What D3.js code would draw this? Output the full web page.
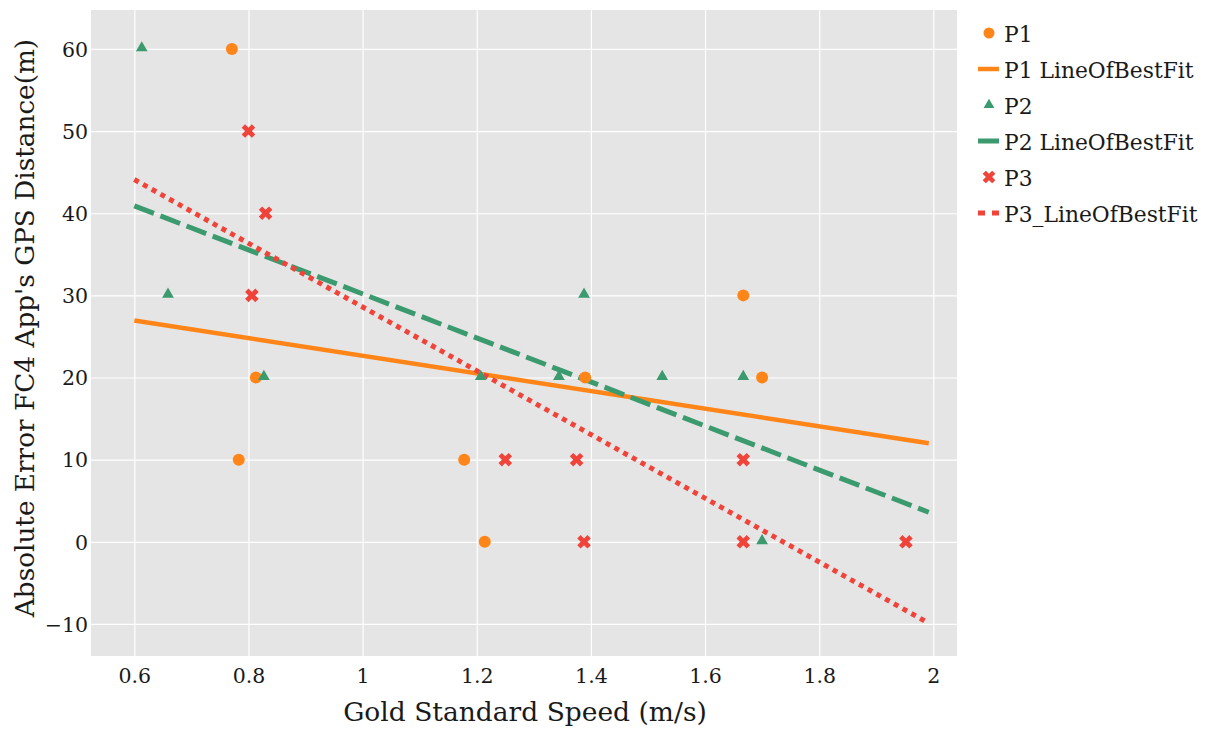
<!DOCTYPE html>
<html><head><meta charset="utf-8">
<script src="https://cdn.jsdelivr.net/npm/d3@7"></script>
<style>body{margin:0;background:#fff}svg{display:block}text{font-family:"DejaVu Serif",serif;fill:#1a1a1a}</style>
</head><body><svg id="c" width="1208" height="733"></svg>
<script>
const xTicks = [0.6, 0.8, 1, 1.2, 1.4, 1.6, 1.8, 2];
const yTicks = [-10, 0, 10, 20, 30, 40, 50, 60];
const p1X = [0.771, 0.813, 0.783, 1.178, 1.214, 1.39, 1.667, 1.70];
const p1Y = [60, 20, 10, 10, 0, 20, 30, 20];
const p2X = [0.613, 0.659, 0.827, 1.207, 1.344, 1.388, 1.525, 1.667, 1.70];
const p2Y = [60, 30, 20, 20, 20, 30, 20, 20, 0];
const p3X = [0.80, 0.806, 0.83, 1.25, 1.375, 1.388, 1.667, 1.667, 1.952];
const p3Y = [50, 30, 40, 10, 10, 0, 10, 0, 0];
const fitX = [0.6, 1.992];
const p1Fit = [26.95, 12.0];
const p2Fit = [40.9, 3.6];
const p3Fit = [44.1, -9.9];
const legendLabels = ["P1", "P1 LineOfBestFit", "P2", "P2 LineOfBestFit", "P3", "P3_LineOfBestFit"];

const C1 = "#ff8519", C2 = "#3b9a6e", C3 = "#f0433a";
const svg = d3.select("#c");
const L = 91, R = 957, T = 10, B = 656;
const x = d3.scaleLinear().domain([0.5241, 2.0415]).range([L, R]);
const y = d3.scaleLinear().domain([-13.9, 64.74]).range([B, T]);

svg.append("rect").attr("x", L).attr("y", T).attr("width", R - L).attr("height", B - T).attr("fill", "#e5e5e5");
const gx = svg.append("g").attr("transform", `translate(0,${B})`)
  .call(d3.axisBottom(x).tickValues(xTicks).tickFormat(d3.format("~g")).tickSize(-(B - T)).tickPadding(12));
gx.select(".domain").remove();
gx.selectAll("line").attr("stroke", "#fff").attr("stroke-width", 1.2);
gx.selectAll("text").style("font-size", "20.5px").attr("fill", "#1a1a1a");
const gy = svg.append("g").attr("transform", `translate(${L},0)`)
  .call(d3.axisLeft(y).tickValues(yTicks).tickFormat(d3.format("~g")).tickSize(-(R - L)).tickPadding(3));
gy.select(".domain").remove();
gy.selectAll("line").attr("stroke", "#fff").attr("stroke-width", 1.2);
gy.selectAll("text").style("font-size", "20.5px").attr("fill", "#1a1a1a").attr("dy", "0.35em");

svg.append("text").attr("x", (L + R) / 2 + 1).attr("y", 721).attr("text-anchor", "middle")
  .style("font-size", "26.5px").text("Gold Standard Speed (m/s)");
svg.append("text").attr("transform", `translate(34,${(T + B) / 2 - 5}) rotate(-90)`).attr("text-anchor", "middle")
  .style("font-size", "26.3px").text("Absolute Error FC4 App's GPS Distance(m)");

const plot = svg.append("g");
const line = d3.line().x(d => x(d[0])).y(d => y(d[1]));
plot.append("path").datum(d3.zip(fitX, p1Fit)).attr("d", line).attr("fill", "none")
  .attr("stroke", C1).attr("stroke-width", 4.5);
plot.append("path").datum(d3.zip(fitX, p2Fit)).attr("d", line).attr("fill", "none")
  .attr("stroke", C2).attr("stroke-width", 5).attr("stroke-dasharray", "21,7");
plot.append("path").datum(d3.zip(fitX, p3Fit)).attr("d", line).attr("fill", "none")
  .attr("stroke", C3).attr("stroke-width", 5).attr("stroke-dasharray", "5,5");

const tri = d3.symbol().type(d3.symbolTriangle).size(60);
const crs = d3.symbol().type(d3.symbolCross).size(115);
plot.selectAll(".p1").data(d3.zip(p1X, p1Y)).join("circle")
  .attr("cx", d => x(d[0])).attr("cy", d => y(d[1])).attr("r", 6).attr("fill", C1);
plot.selectAll(".p2").data(d3.zip(p2X, p2Y)).join("path").attr("d", tri)
  .attr("transform", d => `translate(${x(d[0])},${y(d[1]) - 1})`).attr("fill", C2);
plot.selectAll(".p3").data(d3.zip(p3X, p3Y)).join("path").attr("d", crs)
  .attr("transform", d => `translate(${x(d[0])},${y(d[1])}) rotate(45)`).attr("fill", C3);

// legend
const lg = svg.append("g");
const base0 = 42, step = 36, tx = 1004;
legendLabels.forEach((lab, i) => {
  const by = base0 + i * step, cy = by - 9;
  lg.append("text").attr("x", tx).attr("y", by).style("font-size", "21.8px").text(lab);
  if (i === 0) lg.append("circle").attr("cx", 989).attr("cy", cy).attr("r", 5.5).attr("fill", C1);
  if (i === 2) lg.append("path").attr("d", d3.symbol().type(d3.symbolTriangle).size(50)).attr("transform", `translate(989,${cy})`).attr("fill", C2);
  if (i === 4) lg.append("path").attr("d", d3.symbol().type(d3.symbolCross).size(100)).attr("transform", `translate(989,${cy}) rotate(45)`).attr("fill", C3);
  if (i === 1) lg.append("line").attr("x1", 978).attr("x2", 999).attr("y1", cy).attr("y2", cy).attr("stroke", C1).attr("stroke-width", 4.5);
  if (i === 3) lg.append("line").attr("x1", 978).attr("x2", 999).attr("y1", cy).attr("y2", cy).attr("stroke", C2).attr("stroke-width", 5);
  if (i === 5) lg.append("line").attr("x1", 978).attr("x2", 999).attr("y1", cy).attr("y2", cy).attr("stroke", C3).attr("stroke-width", 5).attr("stroke-dasharray", "7,7");
});
</script></body></html>
